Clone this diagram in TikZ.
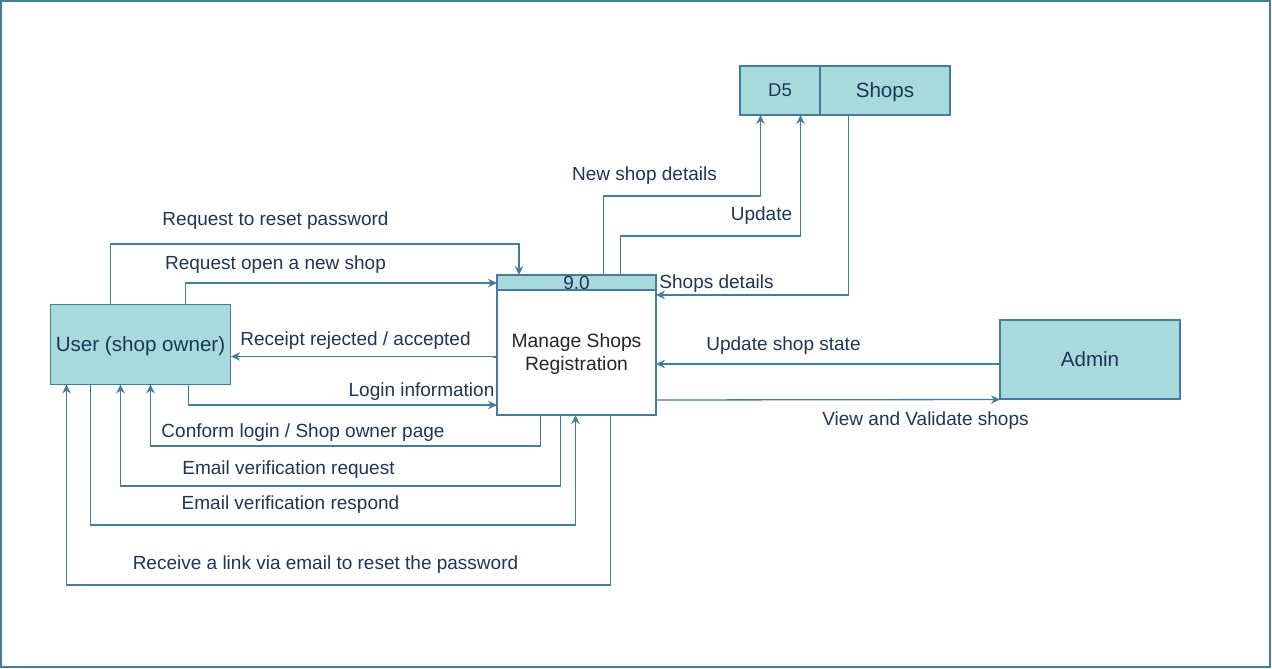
\documentclass[tikz,border=0pt]{standalone}
\usepackage{fontspec}
\setmainfont{Liberation Sans}
\usetikzlibrary{arrows.meta}
\definecolor{fillc}{HTML}{A8DADC}
\definecolor{linec}{HTML}{457B9D}
\definecolor{textc}{HTML}{1D3557}
\tikzset{
  box/.style={draw=linec, fill=fillc, line width=1.3pt, inner sep=0pt, text=textc, text depth=0pt, font=\fontsize{20.6}{24}\selectfont},
  procbody/.style={draw=linec, fill=white, line width=1.3pt, inner sep=0pt},
  proctext/.style={inner sep=0pt, text=black!85, font=\fontsize{19.3}{23}\selectfont, align=center},
  flow/.style={draw=linec, line width=1.3pt, -{Stealth[length=9pt,width=8.5pt,inset=3pt]}},
  lbl/.style={text=textc, font=\fontsize{19}{22}\selectfont, inner sep=0pt, text depth=0pt, anchor=center}
}
\begin{document}
\begin{tikzpicture}[x=1pt,y=-1pt]
\useasboundingbox (0,0) rectangle (1272,669);
\draw[linec, line width=1.3pt] (1,1) rectangle (1270,667);

% entities
\node[box, minimum width=180pt, minimum height=80pt] (user) at (140.5,344.5) {User (shop owner)};
\node[box, minimum width=180pt, minimum height=79pt] (admin) at (1090,359.5) {Admin};
% data store
\node[box, minimum width=80pt, minimum height=49pt, font=\fontsize{18.5}{22}\selectfont] (d5) at (780,90.5) {D5};
\node[box, minimum width=130pt, minimum height=49pt] (shops) at (885,90.5) {Shops};
% process
\node[procbody, minimum width=159pt, minimum height=140pt] (proc) at (576.5,345) {};
\node[proctext] (ptext) at (576.5,354) {Manage Shops\\Registration};
\node[box, minimum width=159pt, minimum height=15pt, font=\fontsize{19}{20}\selectfont] (hdr) at (576.5,282.5) {9.0};

% helper coordinates
\coordinate (u1) at (110.5,304.5);
\coordinate (u2) at (185.5,304.5);
\coordinate (u3) at (188.5,384.5);
\coordinate (u4) at (150.5,384.5);
\coordinate (u5) at (120.5,384.5);
\coordinate (u6) at (90.5,384.5);
\coordinate (u7) at (66.5,384.5);

% Request to reset password
\draw[flow] (u1) |- (519,244) -- (519,275);
\node[lbl] (l1) at (275.5,219) {Request to reset password};
% Request open a new shop
\draw[flow] (u2) |- (497,283);
\node[lbl] (l2) at (275.5,263) {Request open a new shop};
% Receipt rejected / accepted
\draw[flow] (497,357) -- (494,357) -- (494,356.5) -- (user.east |- 0,356.5);
\node[lbl] (l3) at (355.5,339) {Receipt rejected / accepted};
% Login information
\draw[flow] (u3) |- (497,405);
\node[lbl] (l4) at (421.5,390) {Login information};
% Conform login
\draw[flow] (540.5,415) |- (150.5,446) -- (u4);
\node[lbl] (l5) at (303,431) {Conform login / Shop owner page};
% Email verification request
\draw[flow] (560.5,415) |- (120.5,486) -- (u5);
\node[lbl] (l6) at (288.5,468) {Email verification request};
% Email verification respond
\draw[flow] (u6) |- (575.5,525) -- (575.5,415);
\node[lbl] (l7) at (290.5,503) {Email verification respond};
% Receive a link
\draw[flow] (610.5,415) |- (66.5,585) -- (u7);
\node[lbl] (l8) at (325.5,563) {Receive a link via email to reset the password};

% New shop details
\draw[flow] (603.5,275) |- (760.5,196) -- (760.5,115);
\node[lbl] (l9) at (644.5,174) {New shop details};
% Update
\draw[flow] (620.5,275) |- (800.5,236) -- (800.5,115);
\node[lbl] (l10) at (761.5,214) {Update};
% Shops details
\draw[flow] (848.5,115) |- (656,295);
\node[lbl] (l11) at (716.5,282) {Shops details};

% Update shop state
\draw[flow] (admin.west |- 0,364) -- (656,364);
\node[lbl] (l12) at (783.5,344) {Update shop state};
% View and Validate shops
\draw[flow] (656,400) -- (1000,399.5);
\node[lbl] (l13) at (925.5,419) {View and Validate shops};
\end{tikzpicture}
\end{document}
